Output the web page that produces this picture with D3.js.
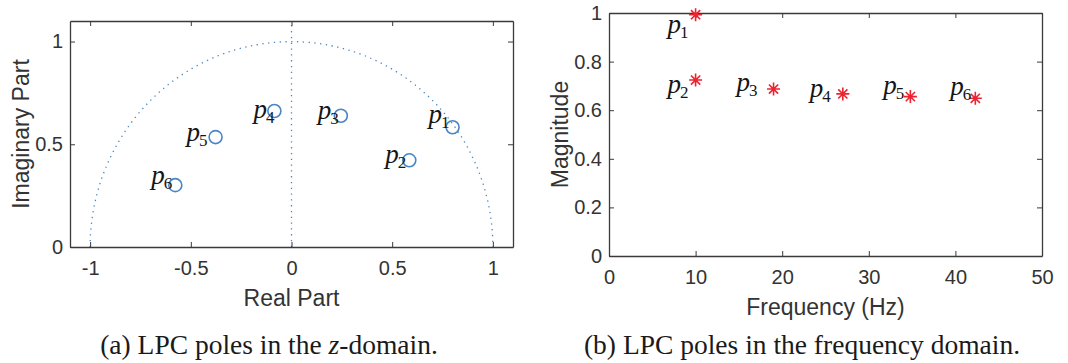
<!DOCTYPE html>
<html>
<head>
<meta charset="utf-8">
<script src="https://cdn.jsdelivr.net/npm/d3@7"></script>
<style>
  html, body { margin: 0; padding: 0; background: #fff; }
  svg { display: block; }
  .tick text { font-family: "Liberation Sans", Arial, sans-serif; font-size: 20px; fill: #333; }
  .axlabel { font-family: "Liberation Sans", Arial, sans-serif; font-size: 23px; fill: #333; }
  .plabel { font-family: "Liberation Serif", "Times New Roman", serif; font-style: italic; font-size: 27px; fill: #161616; }
  .plabel tspan.sub { font-style: normal; font-size: 17px; }
  .caption { font-family: "Liberation Serif", "Times New Roman", serif; font-size: 27.5px; fill: #1a1a1a; }
</style>
</head>
<body>
<script>
// ---------- data ----------
const poleNames   = ["1", "2", "3", "4", "5", "6"];
const poleReal    = [0.800, 0.585, 0.245, -0.085, -0.377, -0.577];
const poleImag    = [0.583, 0.422, 0.639, 0.662, 0.535, 0.301];
const poleFreq    = [10.0, 10.0, 19.0, 27.0, 34.8, 42.3];
const poleMag     = [0.993, 0.724, 0.687, 0.667, 0.656, 0.649];

const zTicksX = [-1, -0.5, 0, 0.5, 1];
const zTicksY = [0, 0.5, 1];
const fTicksX = [0, 10, 20, 30, 40, 50];
const fTicksY = [0, 0.2, 0.4, 0.6, 0.8, 1];

const captionA = ["(a) LPC poles in the ", "z", "-domain."];
const captionB = "(b) LPC poles in the frequency domain.";

// label offsets (layout only, px relative to marker)
const zLabelOff = [[-24, -4], [-24, 3], [-23, 3], [-21, 7], [-29, 4], [-24, -1]];
const fLabelOff = [[-28, 18], [-28, 13], [-37, 2], [-33, 3], [-27, -3], [-25, -3]];

// ---------- svg ----------
const W = 1068, H = 363;
const svg = d3.select("body").append("svg").attr("width", W).attr("height", H);

const axisColor = "#3a3a3a";
const blue = "#4a85c4";
const red = "#ec2330";
const fmt = d => String(d);

function drawFrame(g, x, y, ticksX, ticksY) {
  const [x0, x1] = x.range();
  const [yb, yt] = y.range();
  const bx = g.append("g").attr("transform", `translate(0,${yb})`)
    .call(d3.axisBottom(x).tickValues(ticksX).tickFormat(fmt).tickSizeInner(-5).tickSizeOuter(0).tickPadding(14));
  const ly = g.append("g").attr("transform", `translate(${x0},0)`)
    .call(d3.axisLeft(y).tickValues(ticksY).tickFormat(fmt).tickSizeInner(-5).tickSizeOuter(0).tickPadding(7));
  const tx = g.append("g").attr("transform", `translate(0,${yt})`)
    .call(d3.axisTop(x).tickValues(ticksX).tickFormat("").tickSizeInner(-5).tickSizeOuter(0));
  const ry = g.append("g").attr("transform", `translate(${x1},0)`)
    .call(d3.axisRight(y).tickValues(ticksY).tickFormat("").tickSizeInner(-5).tickSizeOuter(0));
  [bx, ly, tx, ry].forEach(a => {
    a.select(".domain").attr("stroke", axisColor).attr("stroke-width", 1.3);
    a.selectAll(".tick line").attr("stroke", axisColor).attr("stroke-width", 1);
  });
}

function addLabel(g, px, py, name) {
  const t = g.append("text").attr("class", "plabel").attr("x", px).attr("y", py);
  t.append("tspan").text("p");
  t.append("tspan").attr("class", "sub").attr("dy", 5).attr("dx", -1).text(name);
}

// ---------- (a) z-plane ----------
const xa = d3.scaleLinear().domain([-1.1, 1.1]).range([70, 513]);
const ya = d3.scaleLinear().domain([0, 1.1]).range([247, 21]);
const ga = svg.append("g");

const rx = xa(1) - xa(0), ry = ya(0) - ya(1);
ga.append("path")
  .attr("d", `M${xa(-1)},${ya(0)} A${rx},${ry} 0 0 1 ${xa(1)},${ya(0)}`)
  .attr("fill", "none").attr("stroke", blue).attr("stroke-width", 1.3)
  .attr("stroke-dasharray", "1.3 4.5");
ga.append("line")
  .attr("x1", xa(0)).attr("x2", xa(0)).attr("y1", ya(0)).attr("y2", ya(1.1))
  .attr("stroke", blue).attr("stroke-width", 1.3).attr("stroke-dasharray", "1.3 4.5");

drawFrame(ga, xa, ya, zTicksX, zTicksY);

poleNames.forEach((n, i) => {
  ga.append("circle").attr("cx", xa(poleReal[i])).attr("cy", ya(poleImag[i])).attr("r", 6.5)
    .attr("fill", "none").attr("stroke", blue).attr("stroke-width", 1.6);
  addLabel(ga, xa(poleReal[i]) + zLabelOff[i][0], ya(poleImag[i]) + zLabelOff[i][1], n);
});

ga.append("text").attr("class", "axlabel").attr("text-anchor", "middle")
  .attr("x", (xa.range()[0] + xa.range()[1]) / 2).attr("y", 306).text("Real Part");
ga.append("text").attr("class", "axlabel").attr("text-anchor", "middle")
  .attr("transform", `translate(29,${(ya.range()[0] + ya.range()[1]) / 2}) rotate(-90)`).text("Imaginary Part");

// ---------- (b) frequency ----------
const xb = d3.scaleLinear().domain([0, 50]).range([609, 1042]);
const yb = d3.scaleLinear().domain([0, 1]).range([256, 13]);
const gb = svg.append("g");

drawFrame(gb, xb, yb, fTicksX, fTicksY);

const sr = 6.5, sd = 4.6;
poleNames.forEach((n, i) => {
  const cx = xb(poleFreq[i]), cy = yb(poleMag[i]);
  gb.append("path")
    .attr("transform", `translate(${cx},${cy})`)
    .attr("d", `M${-sr},0L${sr},0M0,${-sr}L0,${sr}M${-sd},${-sd}L${sd},${sd}M${-sd},${sd}L${sd},${-sd}`)
    .attr("stroke", red).attr("stroke-width", 1.6).attr("fill", "none");
  addLabel(gb, cx + fLabelOff[i][0], cy + fLabelOff[i][1], n);
});

gb.append("text").attr("class", "axlabel").attr("text-anchor", "middle")
  .attr("x", (xb.range()[0] + xb.range()[1]) / 2).attr("y", 315).text("Frequency (Hz)");
gb.append("text").attr("class", "axlabel").attr("text-anchor", "middle")
  .attr("transform", `translate(568,${(yb.range()[0] + yb.range()[1]) / 2}) rotate(-90)`).text("Magnitude");

// ---------- captions ----------
const ca = svg.append("text").attr("class", "caption").attr("text-anchor", "middle")
  .attr("x", 269).attr("y", 354);
ca.append("tspan").text(captionA[0]);
ca.append("tspan").attr("font-style", "italic").text(captionA[1]);
ca.append("tspan").text(captionA[2]);
svg.append("text").attr("class", "caption").attr("text-anchor", "middle")
  .attr("x", 802).attr("y", 354).text(captionB);
</script>
</body>
</html>
